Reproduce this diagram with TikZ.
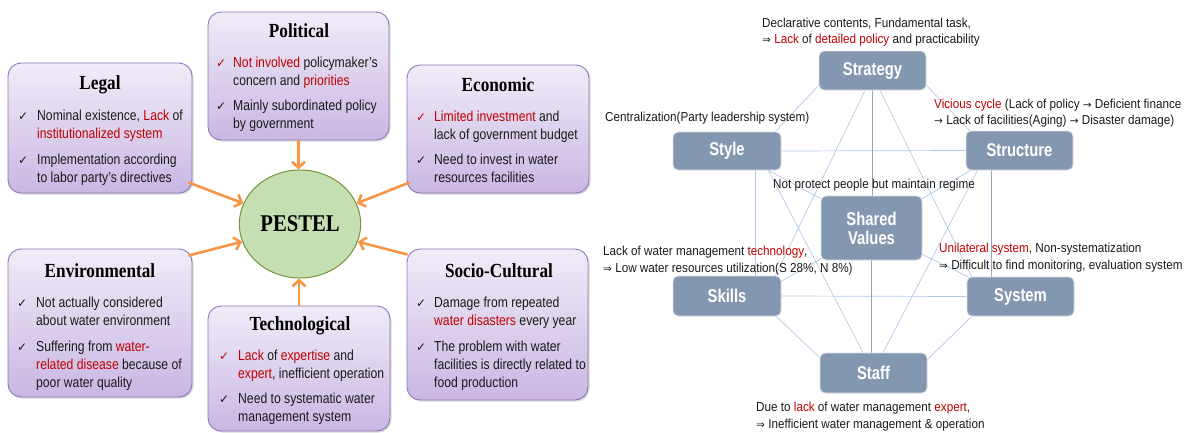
\documentclass[tikz,border=0pt]{standalone}
\usepackage{fontspec}
\setmainfont{Liberation Sans}
\newfontfamily\ttlfont[FakeStretch=0.86]{Liberation Serif}
\newfontfamily\bodyfont[FakeStretch=0.84]{Liberation Sans}
\newfontfamily\annfont[FakeStretch=0.9]{Liberation Sans}
\newfontfamily\lblfont[FakeStretch=0.8]{Liberation Sans}
\newfontfamily\symfont{DejaVu Sans}
\usetikzlibrary{arrows.meta,shadows,calc,shapes.geometric}
\definecolor{pfilla}{HTML}{F1ECF8}
\definecolor{pfillb}{HTML}{C9B7E3}
\definecolor{pdraw}{HTML}{8E78B8}
\definecolor{redt}{HTML}{C00000}
\definecolor{orng}{HTML}{F79646}
\definecolor{gfill}{HTML}{C4DFB2}
\definecolor{gdraw}{HTML}{77933C}
\definecolor{sboxc}{HTML}{8497B0}
\definecolor{lnk}{HTML}{B4C8E4}
\definecolor{vlnk}{HTML}{94A6BF}
\definecolor{txt}{HTML}{1A1A1A}
\newcommand\rd[1]{\textcolor{redt}{#1}}
\newcommand\arr{{\symfont\fontsize{10.5}{16}\selectfont →}}
\newcommand\impl{{\symfont\fontsize{10.5}{16}\selectfont ⇒}}
\pgfdeclarelayer{bg}
\pgfsetlayers{bg,main}
\tikzset{
  pbox/.style={rounded corners=13pt, draw=pdraw, line width=0.9pt, top color=pfilla, bottom color=pfillb,
    drop shadow={opacity=0.3, shadow xshift=1.5pt, shadow yshift=-1.5pt}, inner sep=0},
  ttl/.style={font=\ttlfont\bfseries\fontsize{20}{24}\selectfont, anchor=base, inner sep=0, text=black},
  bl/.style={font=\bodyfont\fontsize{14.5}{18}\selectfont, anchor=base west, inner sep=0, text=txt},
  ckn/.style={anchor=base west, inner sep=0, font=\symfont\fontsize{12}{14}\selectfont, text=txt},
  ckr/.style={ckn, text=redt},
  ann/.style={font=\annfont\fontsize{13}{16}\selectfont, anchor=base west, inner sep=0, text=txt},
  sbox/.style={rounded corners=5pt, fill=sboxc, draw=white!70!sboxc, line width=0.8pt, text=white,
    font=\lblfont\bfseries\fontsize{18.5}{20}\selectfont, inner sep=0, align=center},
  lk/.style={draw=lnk, line width=0.7pt},
  vk/.style={draw=vlnk, line width=1.1pt},
  oarr/.style={draw=orng, line width=2.6pt, -{Straight Barb[length=6pt,width=13pt]}}
}
\begin{document}
\begin{tikzpicture}[x=1pt,y=-1pt]
\useasboundingbox (0,0) rectangle (1187,432);

% ---------------- PESTEL ----------------
\node[pbox, minimum width=184pt, minimum height=130pt] (legal) at (100,128) {};
\node[pbox, minimum width=181pt, minimum height=128pt] (political) at (298.5,76) {};
\node[pbox, minimum width=182pt, minimum height=128pt] (economic) at (498,129) {};
\node[pbox, minimum width=184pt, minimum height=148pt] (environ) at (100,323) {};
\node[pbox, minimum width=182pt, minimum height=125pt] (techno) at (299,368.5) {};
\node[pbox, minimum width=181pt, minimum height=151pt] (socio) at (497.5,324.5) {};
\node[ellipse, draw=gdraw, fill=gfill, line width=1pt, minimum width=114pt, minimum height=108pt,
  font=\ttlfont\bfseries\fontsize{24}{28}\selectfont] (pestel) at (300,224) {PESTEL};

\draw[oarr] (political.south) -- (political.south |- pestel.north);
\draw[oarr] ($(legal.south east)+(-4,-11)$) -- (pestel.160);
\draw[oarr] ($(economic.south west)+(3,-11)$) -- (pestel.20);
\draw[oarr] ($(environ.north east)+(-4,7)$) -- (pestel.-163);
\draw[oarr] ($(socio.north west)+(1,6)$) -- (pestel.-17);
\draw[oarr] (techno.north) -- (techno.north |- pestel.south);

% Legal
\node[ttl] (legal-t) at (100,89) {Legal};
\node[ckn] (legal-c1) at (18,120.5) {✓};
\node[bl] (legal-l1) at (37,120.5) {Nominal existence, \rd{Lack} of};
\node[bl] (legal-l2) at (37,138.5) {\rd{institutionalized system}};
\node[ckn] (legal-c2) at (18,164) {✓};
\node[bl] (legal-l3) at (37,164) {Implementation according};
\node[bl] (legal-l4) at (37,182) {to labor party’s directives};

% Political
\node[ttl] (pol-t) at (299,37) {Political};
\node[ckr] (pol-c1) at (216,67) {✓};
\node[bl] (pol-l1) at (233,67) {\rd{Not involved} policymaker’s};
\node[bl] (pol-l2) at (233,85) {concern and \rd{priorities}};
\node[ckn] (pol-c2) at (216,110.5) {✓};
\node[bl] (pol-l3) at (233,110.5) {Mainly subordinated policy};
\node[bl] (pol-l4) at (233,128.5) {by government};

% Economic
\node[ttl] (eco-t) at (498,91) {Economic};
\node[ckr] (eco-c1) at (416,121.7) {✓};
\node[bl] (eco-l1) at (434,121.7) {\rd{Limited investment} and};
\node[bl] (eco-l2) at (434,139.7) {lack of government budget};
\node[ckn] (eco-c2) at (416,164) {✓};
\node[bl] (eco-l3) at (434,164) {Need to invest in water};
\node[bl] (eco-l4) at (434,182) {resources facilities};

% Environmental
\node[ttl] (env-t) at (100,277) {Environmental};
\node[ckn] (env-c1) at (17,307.3) {✓};
\node[bl] (env-l1) at (36,307.3) {Not actually considered};
\node[bl] (env-l2) at (36,325.3) {about water environment};
\node[ckn] (env-c2) at (17,351.7) {✓};
\node[bl] (env-l3) at (36,351.7) {Suffering from \rd{water-}};
\node[bl] (env-l4) at (36,369.7) {\rd{related disease} because of};
\node[bl] (env-l5) at (36,387.7) {poor water quality};

% Technological
\node[ttl] (tec-t) at (300,330) {Technological};
\node[ckr] (tec-c1) at (219,360) {✓};
\node[bl] (tec-l1) at (238,360) {\rd{Lack} of \rd{expertise} and};
\node[bl] (tec-l2) at (238,378) {\rd{expert}, inefficient operation};
\node[ckn] (tec-c2) at (219,403.3) {✓};
\node[bl] (tec-l3) at (238,403.3) {Need to systematic water};
\node[bl] (tec-l4) at (238,421.3) {management system};

% Socio-Cultural
\node[ttl] (soc-t) at (499,277) {Socio-Cultural};
\node[ckn] (soc-c1) at (416,307.3) {✓};
\node[bl] (soc-l1) at (434,307.3) {Damage from repeated};
\node[bl] (soc-l2) at (434,325.3) {\rd{water disasters} every year};
\node[ckn] (soc-c2) at (416,351.7) {✓};
\node[bl] (soc-l3) at (434,351.7) {The problem with water};
\node[bl] (soc-l4) at (434,369.7) {facilities is directly related to};
\node[bl] (soc-l5) at (434,387.7) {food production};

% ---------------- 7S ----------------
\node[sbox, minimum width=107pt, minimum height=39pt] (strategy) at (872.5,70.5) {Strategy};
\node[sbox, minimum width=108pt, minimum height=38pt] (style) at (727,151) {Style};
\node[sbox, minimum width=107pt, minimum height=39pt] (structure) at (1019.5,150.5) {Structure};
\node[sbox, minimum width=101pt, minimum height=64pt] (shared) at (871.5,228) {Shared\\[-1pt]Values};
\node[sbox, minimum width=108pt, minimum height=40pt] (skills) at (727,296) {Skills};
\node[sbox, minimum width=107pt, minimum height=39pt] (system) at (1020.5,296.5) {System};
\node[sbox, minimum width=107pt, minimum height=40pt] (staff) at (873.5,373) {Staff};

\begin{pgfonlayer}{bg}
\draw[lk] ($(strategy.south west)+(0,-5)$) -- ($(style.north east)+(-6,0)$);
\draw[lk] ($(strategy.south east)+(0,-5)$) -- ($(structure.north west)+(4,0)$);
\draw[lk] (style.east) -- (structure.west);
\draw[lk] (skills.east) -- (system.west);
\draw[lk] ($(skills.south east)+(-5,0)$) -- ($(staff.north west)+(0,5)$);
\draw[lk] ($(system.south west)+(5,0)$) -- ($(staff.north east)+(0,7)$);
\draw[vk] (strategy.south) -- (strategy.south |- shared.north);
\draw[vk] (shared.south) -- (shared.south |- staff.north);
\draw[lk] ($(style.south west)+(83,0)$) coordinate (sv) -- (sv |- skills.north);
\draw[vk] ($(structure.south west)+(26,0)$) coordinate (tv) -- (tv |- system.north);
\draw[lk] ($(strategy.south)+(-7.5,0)$) -- ($(skills.north east)+(-6,0)$);
\draw[lk] ($(strategy.south)+(7.5,0)$) -- ($(system.north west)+(5,0)$);
\draw[lk] ($(style.south east)+(-13,0)$) -- ($(staff.north)+(-10.5,0)$);
\draw[lk] ($(structure.south west)+(12,0)$) -- ($(staff.north)+(9.5,0)$);
\draw[lk] ($(style.south east)+(-13,0)$) -- ($(shared.north west)+(0,3)$);
\draw[lk] ($(structure.south west)+(5,0)$) -- ($(shared.north east)+(-2,4)$);
\draw[lk] ($(skills.north east)+(-1,6)$) -- ($(shared.south west)+(1,-2)$);
\draw[lk] ($(system.north west)+(3,1)$) -- ($(shared.south east)+(0,-6)$);
\end{pgfonlayer}

\node[ann] (a1) at (762,27.3) {Declarative contents, Fundamental task,};
\node[ann] (a1b) at (762,43.3) {\impl\ \rd{Lack} of \rd{detailed policy} and practicability};
\node[ann] (a2) at (605,121.7) {Centralization(Party leadership system)};
\node[ann] (a3) at (934,108.3) {\rd{Vicious cycle} (Lack of policy \arr\ Deficient finance};
\node[ann] (a3b) at (934,124) {\arr\ Lack of facilities(Aging) \arr\ Disaster damage)};
\node[ann] (a4) at (773,188.3) {Not protect people but maintain regime};
\node[ann] (a5) at (603,255) {Lack of water management \rd{technology},};
\node[ann] (a5b) at (603,272.3) {\impl\ Low water resources utilization(S 28\%, N 8\%)};
\node[ann] (a6) at (939,252.3) {\rd{Unilateral system}, Non-systematization};
\node[ann] (a6b) at (939,269) {\impl\ Difficult to find monitoring, evaluation system};
\node[ann] (a7) at (756,411.7) {Due to \rd{lack} of water management \rd{expert},};
\node[ann] (a7b) at (756,428.3) {\impl\ Inefficient water management \& operation};
\end{tikzpicture}
\end{document}
